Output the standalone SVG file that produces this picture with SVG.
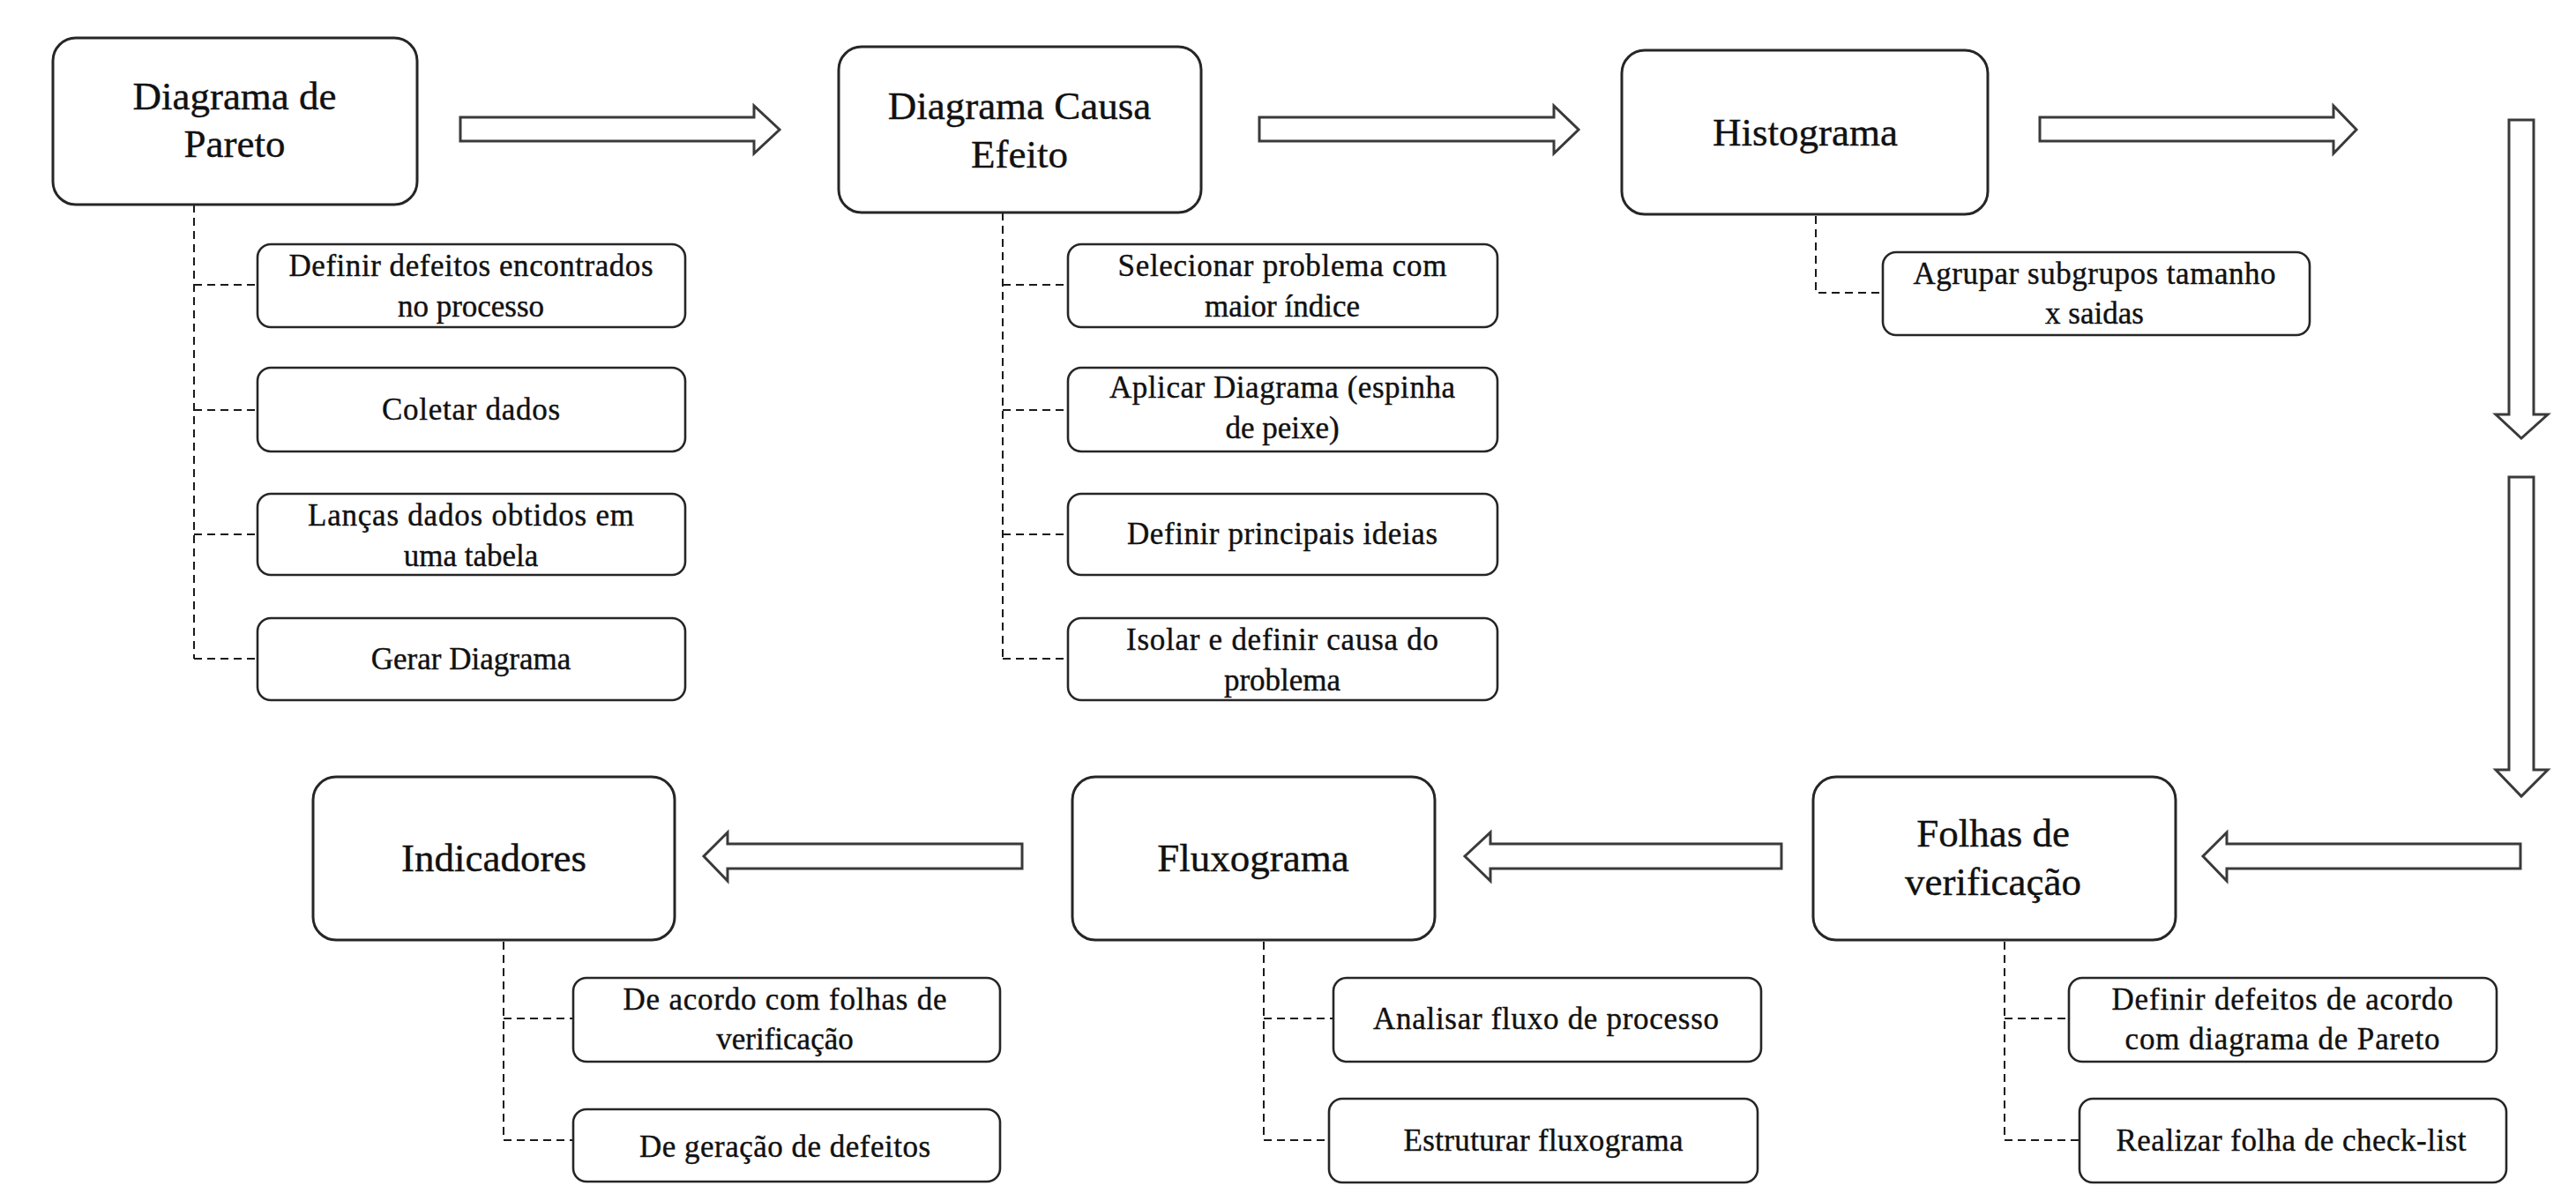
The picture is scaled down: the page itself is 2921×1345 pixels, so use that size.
<svg xmlns="http://www.w3.org/2000/svg" width="2921" height="1345" viewBox="0 0 2921 1345" font-family="'Liberation Serif', 'Times New Roman', serif">
<style>
.main{fill:#fff;stroke:#262626;stroke-width:3}
.sub{fill:#fff;stroke:#262626;stroke-width:2.6}
.arrow{fill:#fff;stroke:#3a3a3a;stroke-width:3;stroke-linejoin:miter}
.dash{fill:none;stroke:#1a1a1a;stroke-width:2;stroke-dasharray:9 6}
text{font-family:'Liberation Serif','Times New Roman',serif;fill:#111;stroke:#111;stroke-width:0.4;text-anchor:middle}
.mt{font-size:45px}
.st{font-size:35px}
</style>
<rect width="2921" height="1345" fill="#fff"/>

<g id="connectors">
  <path class="dash" d="M220 232 V747 M220 323 H292 M220 465 H292 M220 606 H292 M220 747 H292"/>
  <path class="dash" d="M1137 241 V747 M1137 323 H1211 M1137 465 H1211 M1137 606 H1211 M1137 747 H1211"/>
  <path class="dash" d="M2059 245 V332 H2135"/>
  <path class="dash" d="M571 1068 V1293 M571 1155 H650 M571 1293 H650"/>
  <path class="dash" d="M1433 1068 V1293 M1433 1155 H1512 M1433 1293 H1507"/>
  <path class="dash" d="M2273 1068 V1293 M2273 1155 H2346 M2273 1293 H2358"/>
  <path class="arrow" d="M522 133 H855 V120 L884 147 L855 174 V160 H522 Z"/>
  <path class="arrow" d="M1428 133 H1762 V120 L1790 147 L1762 174 V160 H1428 Z"/>
  <path class="arrow" d="M2313 133 H2646 V120 L2672 147 L2646 174 V160 H2313 Z"/>
  <path class="arrow" d="M2845 136 V470 H2830 L2859 497 L2889 470 H2873 V136 Z"/>
  <path class="arrow" d="M2845 541 V873 H2830 L2859 903 L2889 873 H2873 V541 Z"/>
  <path class="arrow" d="M2858 957 H2525 V944 L2498 971 L2525 999 V985 H2858 Z"/>
  <path class="arrow" d="M2020 957 H1690 V944 L1661 971 L1690 999 V985 H2020 Z"/>
  <path class="arrow" d="M1159 957 H825 V944 L798 971 L825 999 V985 H1159 Z"/>
</g>

<g id="pareto">
  <rect class="main" x="60" y="43" width="413" height="189" rx="26"/>
  <text class="mt" x="266" y="124">Diagrama de</text>
  <text class="mt" x="266" y="178">Pareto</text>
</g>
<g id="pareto-1">
  <rect class="sub" x="292" y="277" width="485" height="94" rx="15"/>
  <text class="st" x="534" y="313" textLength="413" lengthAdjust="spacing">Definir defeitos encontrados</text>
  <text class="st" x="534" y="359">no processo</text>
</g>
<g id="pareto-2">
  <rect class="sub" x="292" y="417" width="485" height="95" rx="15"/>
  <text class="st" x="534" y="476" textLength="202" lengthAdjust="spacing">Coletar dados</text>
</g>
<g id="pareto-3">
  <rect class="sub" x="292" y="560" width="485" height="92" rx="15"/>
  <text class="st" x="534" y="596" textLength="370" lengthAdjust="spacing">Lanças dados obtidos em</text>
  <text class="st" x="534" y="642">uma tabela</text>
</g>
<g id="pareto-4">
  <rect class="sub" x="292" y="701" width="485" height="93" rx="15"/>
  <text class="st" x="534" y="759">Gerar Diagrama</text>
</g>

<g id="causa">
  <rect class="main" x="951" y="53" width="411" height="188" rx="26"/>
  <text class="mt" x="1156" y="135">Diagrama Causa</text>
  <text class="mt" x="1156" y="190">Efeito</text>
</g>
<g id="causa-1">
  <rect class="sub" x="1211" y="277" width="487" height="94" rx="15"/>
  <text class="st" x="1454" y="313" textLength="373" lengthAdjust="spacing">Selecionar problema com</text>
  <text class="st" x="1454" y="359">maior índice</text>
</g>
<g id="causa-2">
  <rect class="sub" x="1211" y="417" width="487" height="95" rx="15"/>
  <text class="st" x="1454" y="451" textLength="392" lengthAdjust="spacing">Aplicar Diagrama (espinha</text>
  <text class="st" x="1454" y="497">de peixe)</text>
</g>
<g id="causa-3">
  <rect class="sub" x="1211" y="560" width="487" height="92" rx="15"/>
  <text class="st" x="1454" y="617" textLength="352" lengthAdjust="spacing">Definir principais ideias</text>
</g>
<g id="causa-4">
  <rect class="sub" x="1211" y="701" width="487" height="93" rx="15"/>
  <text class="st" x="1454" y="737" textLength="354" lengthAdjust="spacing">Isolar e definir causa do</text>
  <text class="st" x="1454" y="783">problema</text>
</g>

<g id="histograma">
  <rect class="main" x="1839" y="57" width="415" height="186" rx="26"/>
  <text class="mt" x="2047" y="165">Histograma</text>
</g>
<g id="histograma-1">
  <rect class="sub" x="2135" y="286" width="484" height="94" rx="15"/>
  <text class="st" x="2375" y="322" textLength="411" lengthAdjust="spacing">Agrupar subgrupos tamanho</text>
  <text class="st" x="2375" y="367">x saidas</text>
</g>

<g id="folhas">
  <rect class="main" x="2056" y="881" width="411" height="185" rx="26"/>
  <text class="mt" x="2260" y="960">Folhas de</text>
  <text class="mt" x="2260" y="1015">verificação</text>
</g>
<g id="folhas-1">
  <rect class="sub" x="2346" y="1109" width="485" height="95" rx="15"/>
  <text class="st" x="2588" y="1145" textLength="387" lengthAdjust="spacing">Definir defeitos de acordo</text>
  <text class="st" x="2588" y="1190" textLength="357" lengthAdjust="spacing">com diagrama de Pareto</text>
</g>
<g id="folhas-2">
  <rect class="sub" x="2358" y="1246" width="484" height="95" rx="15"/>
  <text class="st" x="2598" y="1305" textLength="397" lengthAdjust="spacing">Realizar folha de check-list</text>
</g>

<g id="fluxograma">
  <rect class="main" x="1216" y="881" width="411" height="185" rx="26"/>
  <text class="mt" x="1421" y="988">Fluxograma</text>
</g>
<g id="fluxograma-1">
  <rect class="sub" x="1512" y="1109" width="485" height="95" rx="15"/>
  <text class="st" x="1753" y="1167" textLength="392" lengthAdjust="spacing">Analisar fluxo de processo</text>
</g>
<g id="fluxograma-2">
  <rect class="sub" x="1507" y="1246" width="486" height="95" rx="15"/>
  <text class="st" x="1750" y="1305" textLength="317" lengthAdjust="spacing">Estruturar fluxograma</text>
</g>

<g id="indicadores">
  <rect class="main" x="355" y="881" width="410" height="185" rx="26"/>
  <text class="mt" x="560" y="988">Indicadores</text>
</g>
<g id="indicadores-1">
  <rect class="sub" x="650" y="1109" width="484" height="95" rx="15"/>
  <text class="st" x="890" y="1145" textLength="367" lengthAdjust="spacing">De acordo com folhas de</text>
  <text class="st" x="890" y="1190">verificação</text>
</g>
<g id="indicadores-2">
  <rect class="sub" x="650" y="1258" width="484" height="82" rx="15"/>
  <text class="st" x="890" y="1312" textLength="330" lengthAdjust="spacing">De geração de defeitos</text>
</g>
</svg>
